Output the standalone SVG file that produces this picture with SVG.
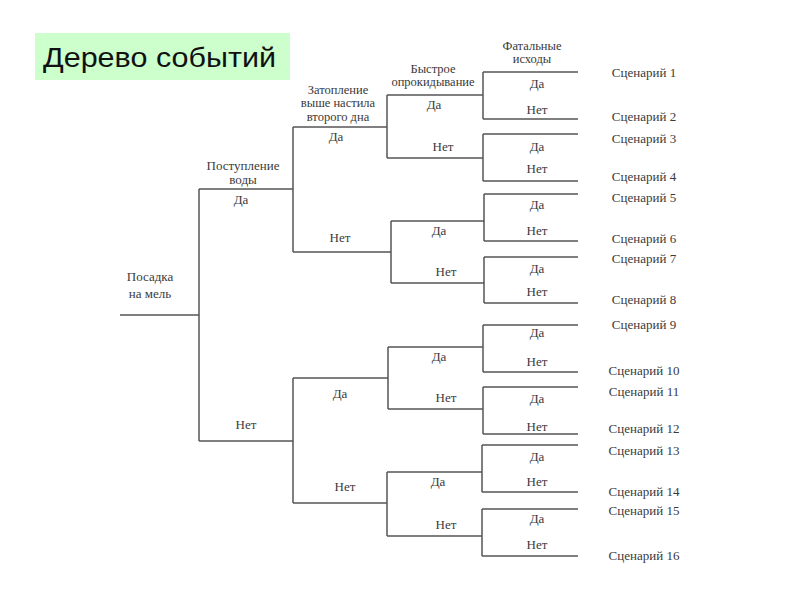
<svg xmlns="http://www.w3.org/2000/svg" width="800" height="600" viewBox="0 0 800 600">
<style>
.t{font-family:"Liberation Serif","Times New Roman",serif;font-size:13px;fill:#3a3a3a;text-anchor:middle}
.h{font-family:"Liberation Serif","Times New Roman",serif;font-size:12.5px;fill:#3a3a3a;text-anchor:middle}
.s{font-family:"Liberation Serif","Times New Roman",serif;font-size:13px;fill:#3a3a3a;text-anchor:middle}
.ln{fill:none;stroke:#555;stroke-width:1.5}
</style>
<rect width="800" height="600" fill="#fff"/>
<g id="title">
<rect x="35" y="33" width="255" height="47" fill="#ccffcc"/>
<text x="43" y="67" font-family="Liberation Sans, Arial, sans-serif" font-size="28" fill="#111" textLength="233" lengthAdjust="spacingAndGlyphs">Дерево событий</text>
</g>
<g id="connectors" class="ln">
<path class="ln" d="M120,315H199M199,189V441M199,189H293M199,441H293"/>
<path class="ln" d="M293,127V252M293,127H387M293,252H391M293,378V503M293,378H388M293,503H387"/>
<path class="ln" d="M387,95V158M387,95H483M387,158H483M391,221V283M391,221H484M391,283H484"/>
<path class="ln" d="M388,347V409M388,347H483M388,409H483M387,472V536M387,472H482M387,536H482"/>
<path class="ln" d="M483,72V119M483,72H578M483,119H578M483,134V181M483,134H578M483,181H578"/>
<path class="ln" d="M484,194V241M484,194H578M484,241H578M484,257V303M484,257H578M484,303H578"/>
<path class="ln" d="M483,325V372M483,325H578M483,372H578M483,387V434M483,387H578M483,434H578"/>
<path class="ln" d="M482,445V492M482,445H578M482,492H578M482,509V556M482,509H578M482,556H578"/>
</g>
<g id="headers">
<g id="h0"><text class="t" x="150" y="281">Посадка</text><text class="t" x="150" y="298">на мель</text></g>
<g id="h1"><text class="t" x="243" y="170">Поступление</text><text class="t" x="243" y="184">воды</text></g>
<g id="h2"><text class="h" x="338" y="93.5">Затопление</text><text class="h" x="338" y="107">выше настила</text><text class="h" x="338" y="120.5">второго дна</text></g>
<g id="h3"><text class="h" x="433" y="72.5">Быстрое</text><text class="h" x="433" y="86">опрокидывание</text></g>
<g id="h4"><text class="h" x="532" y="49.5">Фатальные</text><text class="h" x="532" y="63">исходы</text></g>
</g>
<g id="branch-labels">
<text class="t" x="241" y="204">Да</text>
<text class="t" x="246" y="429">Нет</text>
<text class="t" x="336" y="141">Да</text>
<text class="t" x="340" y="242">Нет</text>
<text class="t" x="340" y="398">Да</text>
<text class="t" x="345" y="491">Нет</text>
<text class="t" x="434" y="109">Да</text>
<text class="t" x="443" y="151">Нет</text>
<text class="t" x="439" y="235">Да</text>
<text class="t" x="446" y="276">Нет</text>
<text class="t" x="439" y="361">Да</text>
<text class="t" x="446" y="402">Нет</text>
<text class="t" x="438" y="486">Да</text>
<text class="t" x="446" y="529">Нет</text>
<text class="t" x="537" y="88">Да</text>
<text class="t" x="537" y="114">Нет</text>
<text class="t" x="537" y="151">Да</text>
<text class="t" x="537" y="173">Нет</text>
<text class="t" x="537" y="209">Да</text>
<text class="t" x="537" y="235">Нет</text>
<text class="t" x="537" y="273">Да</text>
<text class="t" x="537" y="296">Нет</text>
<text class="t" x="537" y="337">Да</text>
<text class="t" x="537" y="366">Нет</text>
<text class="t" x="537" y="403">Да</text>
<text class="t" x="537" y="431">Нет</text>
<text class="t" x="537" y="461">Да</text>
<text class="t" x="537" y="486">Нет</text>
<text class="t" x="537" y="523">Да</text>
<text class="t" x="537" y="549">Нет</text>
</g>
<g id="scenarios">
<text class="s" x="644" y="77">Сценарий 1</text>
<text class="s" x="644" y="121">Сценарий 2</text>
<text class="s" x="644" y="143">Сценарий 3</text>
<text class="s" x="644" y="181">Сценарий 4</text>
<text class="s" x="644" y="202">Сценарий 5</text>
<text class="s" x="644" y="243">Сценарий 6</text>
<text class="s" x="644" y="263">Сценарий 7</text>
<text class="s" x="644" y="304">Сценарий 8</text>
<text class="s" x="644" y="329">Сценарий 9</text>
<text class="s" x="644" y="375">Сценарий 10</text>
<text class="s" x="644" y="396">Сценарий 11</text>
<text class="s" x="644" y="433">Сценарий 12</text>
<text class="s" x="644" y="455">Сценарий 13</text>
<text class="s" x="644" y="496">Сценарий 14</text>
<text class="s" x="644" y="515">Сценарий 15</text>
<text class="s" x="644" y="560">Сценарий 16</text>
</g>
</svg>
